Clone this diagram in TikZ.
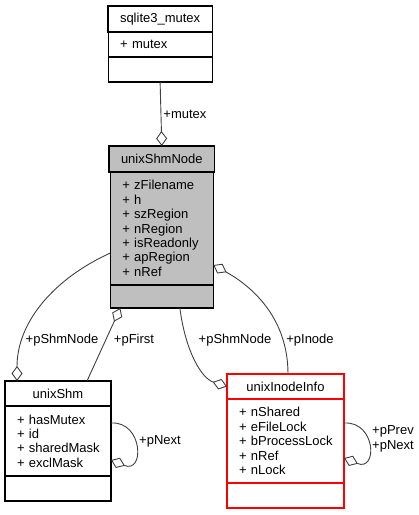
\documentclass[tikz,border=0pt]{standalone}
\usepackage{fontspec}
\setmainfont{Liberation Sans}
\usetikzlibrary{arrows.meta,positioning}
\definecolor{linkgray}{RGB}{64,64,64}
\definecolor{boxgray}{RGB}{191,191,191}
\newcommand\classfont{\fontsize{13}{14.4}\selectfont\hyphenpenalty=10000\relax\exhyphenpenalty=10000\relax}
\tikzset{ % Common styles for the class boxes and the links between them
	classpart/.style={
		draw=black, line width=1.1pt, % Box outline
		outer sep=0pt, inner xsep=12pt, inner ysep=0pt,
		font=\classfont
	},
	titlebox/.style={classpart, anchor=north west}, % Top part, holds the class name
	attrbox/.style={classpart, align=left}, % Middle part, holds the members
	methbox/.style={classpart, minimum height=25pt}, % Empty bottom part
	assoc/.style={
		draw=linkgray, line width=0.9pt,
		-{Diamond[open, length=15pt, width=11pt, line width=0.9pt]} % Aggregation tip
	},
	rolelabel/.style={font=\classfont, inner sep=2pt}
}
\begin{document}
\begin{tikzpicture}[x=1pt, y=-1pt]
	\useasboundingbox (0,0) rectangle (419,515);
	% Classes
	\node[titlebox, minimum width=104pt, minimum height=26pt] (mutexTitle) at (108,6) {sqlite3\_mutex};
	\node[attrbox, text width=80pt, minimum height=25pt, below=0pt of mutexTitle] (mutexAttr) {+~mutex};
	\node[methbox, minimum width=104pt, below=0pt of mutexAttr] (mutexMeth) {};

	\node[titlebox, fill=boxgray, minimum width=103pt, minimum height=26pt] (shmNodeTitle) at (109,146) {unixShmNode};
	\node[attrbox, fill=boxgray, text width=79pt, minimum height=113pt, below=0pt of shmNodeTitle] (shmNodeAttr)
		{+~zFilename\\+~h\\+~szRegion\\+~nRegion\\+~isReadonly\\+~apRegion\\+~nRef};
	\node[methbox, fill=boxgray, minimum width=103pt, minimum height=23pt, below=0pt of shmNodeAttr] (shmNodeMeth) {};

	\node[titlebox, minimum width=106pt, minimum height=25pt] (shmTitle) at (5,381) {unixShm};
	\node[attrbox, text width=82pt, minimum height=70pt, below=0pt of shmTitle] (shmAttr)
		{+~hasMutex\\+~id\\+~sharedMask\\+~exclMask};
	\node[methbox, minimum width=106pt, below=0pt of shmAttr] (shmMeth) {};

	\node[titlebox, draw=red, minimum width=117pt, minimum height=25pt] (inodeTitle) at (227,374) {unixInodeInfo};
	\node[attrbox, draw=red, text width=93pt, minimum height=84pt, below=0pt of inodeTitle] (inodeAttr)
		{+~nShared\\+~eFileLock\\+~bProcessLock\\+~nRef\\+~nLock};
	\node[methbox, draw=red, minimum width=117pt, below=0pt of inodeAttr] (inodeMeth) {};

	% Links
	\draw[assoc] (mutexMeth.south) -- node[rolelabel, right] (lblMutex) {+mutex} (shmNodeTitle.north);
	\draw[assoc] ([yshift=-24.5pt]shmNodeAttr.west) .. controls +(-55,25) and +(0,-60) .. ([xshift=12pt]shmTitle.north west);
	\draw[assoc] ([xshift=82pt]shmTitle.north west) -- ([xshift=10pt]shmNodeMeth.south west);
	\draw[assoc] ([xshift=18pt]shmNodeMeth.south) .. controls +(6,45) and +(-25,-8) .. (inodeTitle.west);
	\draw[assoc] ([xshift=61pt]inodeTitle.north west) .. controls +(0,-55) and +(40,22) .. ([yshift=-36.5pt]shmNodeAttr.east);
	\draw[assoc] ([yshift=18pt]shmAttr.east) .. controls +(32,-2) and +(34,14) .. ([yshift=-19pt]shmAttr.east);
	\draw[assoc] ([yshift=18pt]inodeAttr.east) .. controls +(32,-2) and +(34,14) .. ([yshift=-17pt]inodeAttr.east);

	% Role names
	\node[rolelabel] (lblShmNodeA) at (62,340) {+pShmNode};
	\node[rolelabel] (lblFirst) at (134,340) {+pFirst};
	\node[rolelabel] (lblShmNodeB) at (235,340) {+pShmNode};
	\node[rolelabel] (lblInode) at (310,340) {+pInode};
	\node[rolelabel] (lblShmNext) at (160,441) {+pNext};
	\node[rolelabel, align=right] (lblInodeLinks) at (393,439) {+pPrev\\+pNext};
\end{tikzpicture}
\end{document}
